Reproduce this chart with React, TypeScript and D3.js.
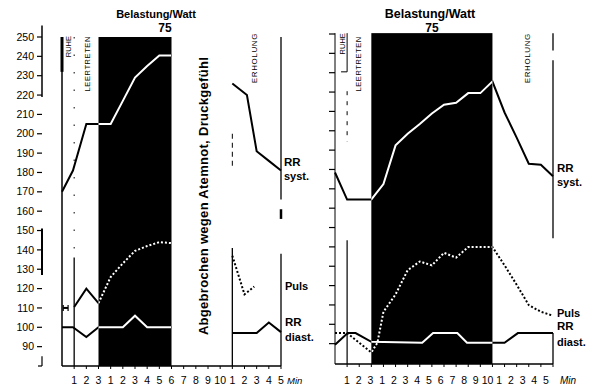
import React from "react";
import * as d3 from "d3";

const W = 595;
const H = 390;

// y tick labels (left panel scale, shared by both panels)
const yTickLabels = [250, 240, 230, 220, 210, 200, 190, 180, 170, 160, 150, 140, 130, 120, 110, 100, 90];
// x: cumulative minutes (0-3 Ruhe/Leertreten, 3-13 Belastung, 13-18 Erholung)
const xTickMinutes = [1, 2, 3, 4, 5, 6, 7, 8, 9, 10, 11, 12, 13, 14, 15, 16, 17, 18];
const xTickLabels = ["1", "2", "3", "1", "2", "3", "4", "5", "6", "7", "8", "9", "10", "1", "2", "3", "4", "5"];

// ---- Left panel (abgebrochen nach 6 Min) ----
const leftSystT = [0, 0.9, 2, 3, 4, 5, 6, 7, 8, 9];
const leftSystV = [170, 181, 205, 205, 205, 217, 229, 235, 240.5, 240.5];
const leftSystRecT = [14, 15.2, 16, 17, 18];
const leftSystRecV = [226, 220, 191, 186, 181];

const leftPulsStartT = [0.1, 0.5];
const leftPulsStartV = [110, 110];
const leftPulsRestT = [1, 2, 3];
const leftPulsRestV = [110.5, 120, 112.5];
const leftPulsT = [3, 4, 5, 6, 7, 8, 9];
const leftPulsV = [112.5, 126, 133, 139.5, 142, 144, 143.5];
const leftPulsRecT = [14, 15, 15.8];
const leftPulsRecV = [137, 117, 121];

const leftDiastT = [0, 0.9, 2, 3, 5, 6, 7, 9];
const leftDiastV = [100, 100, 95, 100, 100, 106, 100, 100];
const leftDiastRecT = [14, 16, 17, 18];
const leftDiastRecV = [97, 97, 102.5, 97.5];

// ---- Right panel ----
const rightSystT = [0, 1, 2, 3, 4, 5, 6, 7, 8, 9, 10, 11, 12, 13, 14, 15, 16, 17, 18];
const rightSystV = [180, 166, 166, 166, 174, 194, 200, 205, 210.5, 215, 216, 221, 221, 227, 211, 198, 184.5, 184, 178];

const rightPulsT = [0, 1, 3, 3.5, 4, 5, 6, 7, 8, 9, 10, 11, 12, 13, 14, 15, 16, 17, 18];
const rightPulsV = [97, 97, 87, 92, 108, 117, 129.5, 134, 132, 138.5, 136, 141.5, 141.5, 141.5, 132, 122, 111.5, 108, 106];

const rightDiastT = [0, 1.05, 1.7, 3, 7.2, 8.1, 10.1, 10.9, 14, 15.1, 18];
const rightDiastV = [91, 97, 97, 92.5, 92, 97, 97, 92, 92, 97, 97];

type P = [number, number];
const pts = (t: number[], v: number[]): P[] => t.map((tt, i) => [tt, v[i]] as P);

const FONT = "'Liberation Sans', Arial, Helvetica, sans-serif";

export default function App() {
  const yS = d3.scaleLinear().domain([80, 250]).range([366, 37]);
  const xL = d3.scaleLinear().domain([0, 18]).range([62, 281]);
  const xR = d3.scaleLinear().domain([0, 18]).range([335, 553]);
  const xRLab = d3.scaleLinear().domain([1, 18]).range([347, 546]);

  const baseL = 366;
  const baseR = 364;
  const topL = yS(250);
  const topR = yS(252);

  const lineL = d3.line<P>().x((d) => xL(d[0])).y((d) => yS(d[1]));
  const lineR = d3.line<P>().x((d) => xR(d[0])).y((d) => yS(d[1]));

  const blackL = { x0: xL(3), x1: xL(9) };
  const blackR = { x0: xR(3), x1: xR(13) };

  const Series = ({ d, clip, dashed }: { d: string; clip: string; dashed?: boolean }) => (
    <g>
      <path d={d} fill="none" stroke="#000" strokeWidth={2} strokeDasharray={dashed ? "2 2" : undefined} />
      <path d={d} fill="none" stroke="#fff" strokeWidth={2} strokeDasharray={dashed ? "2 2" : undefined} clipPath={`url(#${clip})`} />
    </g>
  );

  const vText = (x: number, y: number, s: string, size: number, anchor = "end", weight = "normal", ls = 0) => (
    <text
      transform={`translate(${x},${y}) rotate(-90)`}
      textAnchor={anchor as any}
      dy="0.35em"
      fontSize={size}
      fontWeight={weight}
      letterSpacing={ls}
      fontFamily={FONT}
    >
      {s}
    </text>
  );

  return (
    <svg
      width={W}
      height={H}
      viewBox={`0 0 ${W} ${H}`}
      style={{ position: "absolute", left: 0, top: 0, background: "#fff" }}
    >
      <defs>
        <clipPath id="clipL">
          <rect x={blackL.x0} y={topL} width={blackL.x1 - blackL.x0} height={baseL - topL} />
        </clipPath>
        <clipPath id="clipR">
          <rect x={blackR.x0} y={topR} width={blackR.x1 - blackR.x0} height={baseR - topR} />
        </clipPath>
      </defs>
      <rect x={0} y={0} width={W} height={H} fill="#fff" />

      {/* black load regions */}
      <rect x={blackL.x0} y={topL} width={blackL.x1 - blackL.x0} height={baseL - topL} fill="#000" />
      <rect x={blackR.x0} y={topR} width={blackR.x1 - blackR.x0} height={baseR - topR} fill="#000" />

      {/* titles */}
      <text x={156} y={18} textAnchor="middle" fontSize={11} fontWeight="bold" fontFamily={FONT}>Belastung/Watt</text>
      <text x={165} y={32} textAnchor="middle" fontSize={12} fontWeight="bold" fontFamily={FONT}>75</text>
      <text x={430} y={18} textAnchor="middle" fontSize={12.5} fontWeight="bold" fontFamily={FONT}>Belastung/Watt</text>
      <text x={432} y={32} textAnchor="middle" fontSize={12} fontWeight="bold" fontFamily={FONT}>75</text>

      {/* left y axis */}
      <g stroke="#000">
        <line x1={42} x2={42} y1={yS(256)} y2={yS(219)} strokeWidth={1.5} />
        <line x1={42} x2={42} y1={yS(151)} y2={yS(127)} strokeWidth={2} />
        <line x1={42} x2={42} y1={yS(85)} y2={baseL} strokeWidth={1.2} />
        <line x1={38} x2={42} y1={baseL} y2={baseL} strokeWidth={1.2} />
        {yTickLabels.map((v) => (
          <line key={v} x1={37} x2={42} y1={yS(v)} y2={yS(v)} strokeWidth={1.2} />
        ))}
      </g>
      {yTickLabels.map((v) => (
        <text key={v} x={34} y={yS(v)} dy="0.35em" textAnchor="end" fontSize={10.5} fontFamily={FONT}>
          {v}
        </text>
      ))}

      {/* left panel structure */}
      <g stroke="#000">
        <line x1={xL(0)} x2={xL(0)} y1={topL} y2={baseL} strokeWidth={1.5} />
        <line x1={xL(0)} x2={xL(0)} y1={topL} y2={yS(232)} strokeWidth={3} />
        <line x1={xL(1)} x2={xL(1)} y1={topL} y2={yS(138)} strokeWidth={1} strokeDasharray="1.5 16" />
        <line x1={xL(1)} x2={xL(1)} y1={yS(136)} y2={baseL} strokeWidth={1.3} />
        <line x1={xL(14)} x2={xL(14)} y1={yS(200)} y2={yS(182)} strokeWidth={1} strokeDasharray="5 4" />
        <line x1={xL(14)} x2={xL(14)} y1={yS(141)} y2={baseL} strokeWidth={1.3} />
        <line x1={xL(18)} x2={xL(18)} y1={topL} y2={yS(166)} strokeWidth={1.3} />
        <line x1={xL(18)} x2={xL(18)} y1={yS(161)} y2={yS(156)} strokeWidth={2.5} />
        <line x1={xL(18)} x2={xL(18)} y1={yS(138)} y2={baseL} strokeWidth={1.3} />
        <line x1={xL(0)} x2={xL(18)} y1={baseL} y2={baseL} strokeWidth={1.5} />
        {xTickMinutes.map((m) => (
          <line key={m} x1={xL(m)} x2={xL(m)} y1={baseL} y2={baseL + 3} strokeWidth={1} />
        ))}
      </g>

      {/* right panel structure */}
      <g stroke="#000">
        <line x1={xR(0)} x2={xR(0)} y1={topR} y2={baseR} strokeWidth={1} />
        {yTickLabels.map((v) => (
          <line key={v} x1={xR(0) - 6} x2={xR(0)} y1={yS(v) - 3} y2={yS(v) - 3} strokeWidth={1.2} />
        ))}
        <line x1={xR(1)} x2={xR(1)} y1={topR} y2={yS(232)} strokeWidth={1} />
        <line x1={xR(0.5)} x2={xR(1)} y1={yS(232)} y2={yS(232)} strokeWidth={1} />
        <line x1={xR(1)} x2={xR(1)} y1={yS(222)} y2={yS(196)} strokeWidth={1} strokeDasharray="4 6" />
        <line x1={xR(1)} x2={xR(1)} y1={yS(145)} y2={baseR} strokeWidth={1.2} />
        <line x1={xR(18)} x2={xR(18)} y1={topR} y2={yS(243)} strokeWidth={1.3} />
        <line x1={xR(18)} x2={xR(18)} y1={yS(238)} y2={yS(146)} strokeWidth={1.3} />
        <line x1={xR(18)} x2={xR(18)} y1={yS(97)} y2={baseR} strokeWidth={1.3} />
        <line x1={xR(0)} x2={xR(18)} y1={baseR} y2={baseR} strokeWidth={1.5} />
        {xTickMinutes.map((m) => (
          <line key={m} x1={xR(m)} x2={xR(m)} y1={baseR} y2={baseR + 3} strokeWidth={1} />
        ))}
      </g>

      {/* phase labels */}
      {vText(xL(0.5), topL - 1, "RUHE", 7.5)}
      {vText(xL(2.1), topL - 1, "LEERTRETEN", 7.5, "end", "normal", 0.6)}
      {vText(xL(15.8), topL - 4, "ERHOLUNG", 8, "end", "normal", 0.6)}
      {vText(xR(0.6), topR, "RUHE", 7.5)}
      {vText(xR(1.9), topR + 3, "LEERTRETEN", 7.5, "end", "normal", 0.6)}
      {vText(xR(15.9), topR, "ERHOLUNG", 8, "end", "normal", 0.6)}

      {vText(203, 196, "Abgebrochen wegen Atemnot, Druckgefühl", 13, "middle", "bold", 0.3)}

      {/* left series */}
      <Series d={lineL(pts(leftSystT, leftSystV))!} clip="clipL" />
      <Series d={lineL(pts(leftSystRecT, leftSystRecV))!} clip="clipL" />
      <Series d={lineL(pts(leftPulsStartT, leftPulsStartV))!} clip="clipL" />
      <g stroke="#000" strokeWidth={1.2}>
        {leftPulsStartT.map((t) => (
          <line key={t} x1={xL(t)} x2={xL(t)} y1={yS(leftPulsStartV[0]) - 3} y2={yS(leftPulsStartV[0]) + 3} />
        ))}
      </g>
      <Series d={lineL(pts(leftPulsRestT, leftPulsRestV))!} clip="clipL" />
      <Series d={lineL(pts(leftPulsT, leftPulsV))!} clip="clipL" dashed />
      <Series d={lineL(pts(leftPulsRecT, leftPulsRecV))!} clip="clipL" dashed />
      <Series d={lineL(pts(leftDiastT, leftDiastV))!} clip="clipL" />
      <Series d={lineL(pts(leftDiastRecT, leftDiastRecV))!} clip="clipL" />

      {/* right series */}
      <Series d={lineR(pts(rightSystT, rightSystV))!} clip="clipR" />
      <Series d={lineR(pts(rightPulsT, rightPulsV))!} clip="clipR" dashed />
      <Series d={lineR(pts(rightDiastT, rightDiastV))!} clip="clipR" />

      {/* series labels */}
      <g fontFamily={FONT} fontWeight="bold">
        <text x={284} y={166} fontSize={11.5}>RR</text>
        <text x={284} y={180} fontSize={11}>syst.</text>
        <text x={285} y={290} fontSize={11}>Puls</text>
        <text x={285} y={326} fontSize={11.5}>RR</text>
        <text x={285} y={341} fontSize={11}>diast.</text>
        <text x={557} y={172} fontSize={11.5}>RR</text>
        <text x={557} y={186} fontSize={11}>syst.</text>
        <text x={557} y={317} fontSize={11}>Puls</text>
        <text x={557} y={330} fontSize={11.5}>RR</text>
        <text x={557} y={346} fontSize={11}>diast.</text>
      </g>

      {/* x tick labels */}
      <g fontFamily={FONT} fontSize={10.5}>
        {xTickMinutes.map((m, i) => (
          <text key={"l" + m} x={xL(m)} y={384} textAnchor="middle">{xTickLabels[i]}</text>
        ))}
        <text x={287} y={384} fontStyle="italic" fontSize={9.5}>Min</text>
        {xTickMinutes.map((m, i) => (
          <text key={"r" + m} x={xRLab(m)} y={384} textAnchor="middle">{xTickLabels[i]}</text>
        ))}
        <text x={560} y={384} fontStyle="italic" fontSize={10}>Min</text>
      </g>
    </svg>
  );
}
